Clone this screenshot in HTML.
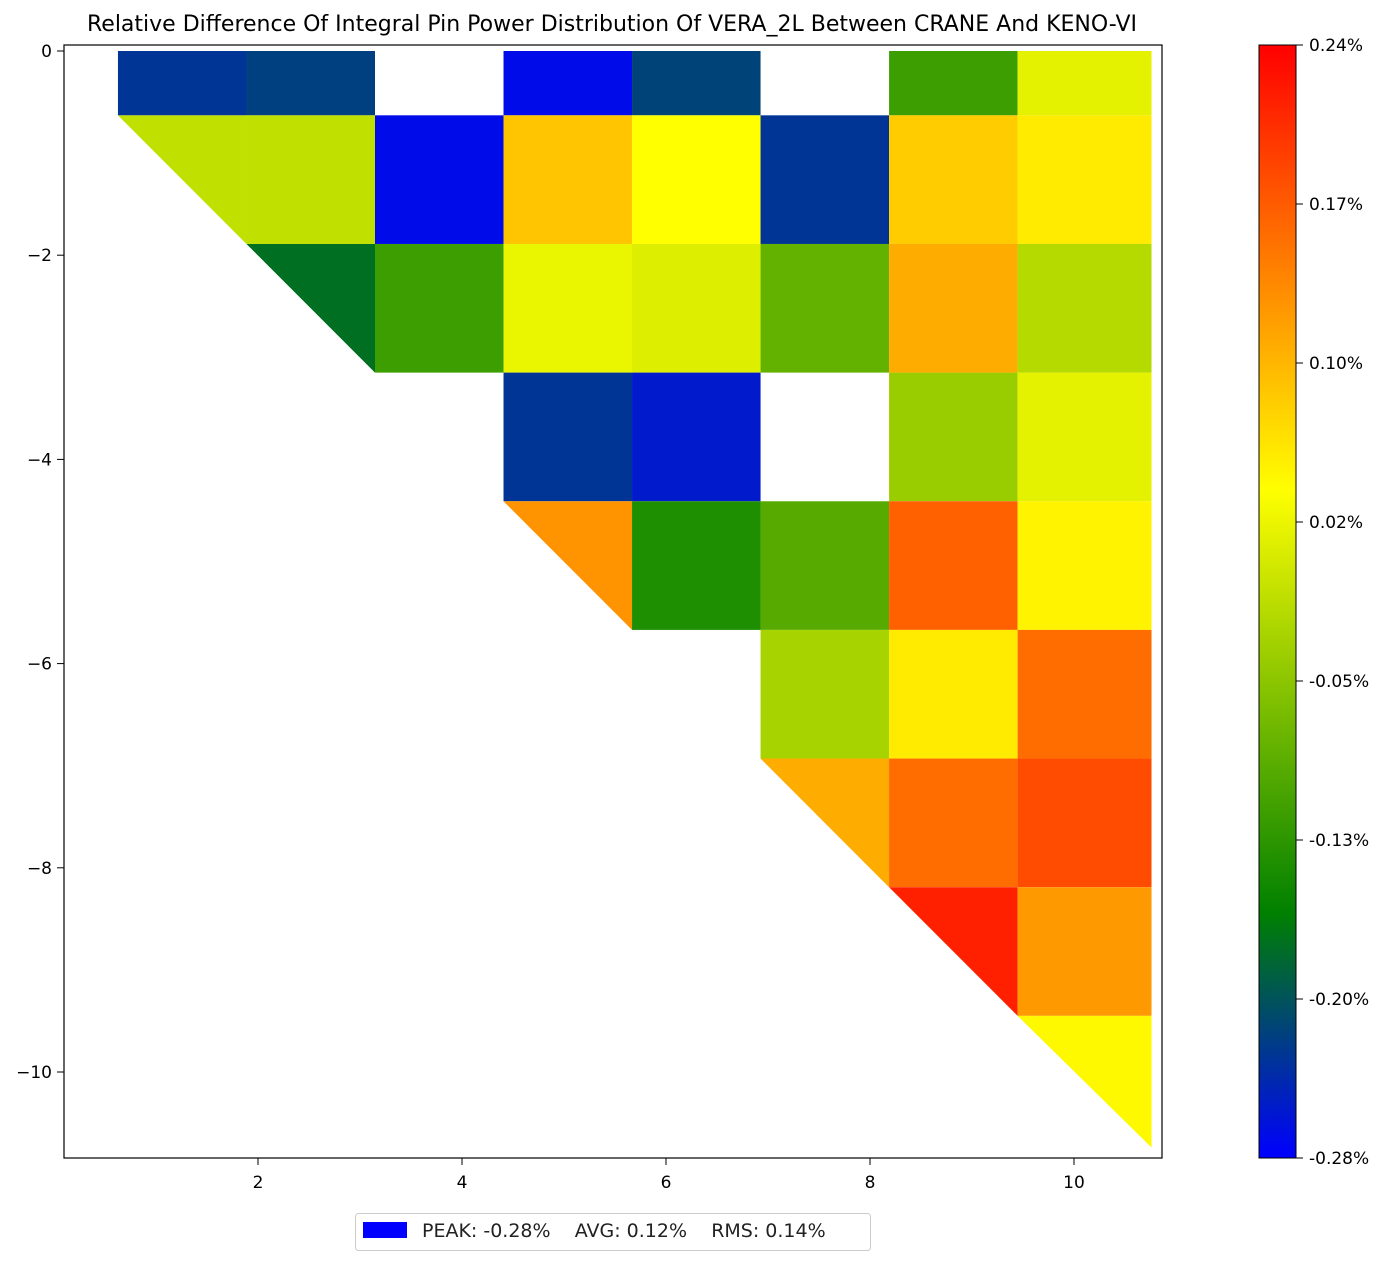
<!DOCTYPE html>
<html><head><meta charset="utf-8"><style>
body{margin:0;background:#fff;}
svg{display:block;font-family:"DejaVu Sans","Liberation Sans",sans-serif;}
</style></head><body>
<svg id="chart" width="1389" height="1284" viewBox="0 0 1389 1284">
<defs>
<linearGradient id="cbgrad" x1="0" y1="1" x2="0" y2="0">
<stop offset="0" stop-color="#0000ff"/>
<stop offset="0.22" stop-color="#008000"/>
<stop offset="0.6" stop-color="#ffff00"/>
<stop offset="1" stop-color="#ff0000"/>
</linearGradient>
</defs>
<text x="612" y="31" font-size="22" text-anchor="middle" fill="#000">Relative Difference Of Integral Pin Power Distribution Of VERA_2L Between CRANE And KENO-VI</text>
<g id="cells"></g>
<rect x="64" y="45" width="1098" height="1113" fill="none" stroke="#000" stroke-width="1.2"/>
<g id="xticks"></g>
<g id="yticks"></g>
<rect x="1259" y="45" width="37" height="1113" fill="url(#cbgrad)" stroke="#000" stroke-width="1"/>
<g id="cbticks"></g>
<g>
<rect x="355.5" y="1213.5" width="515" height="37" rx="3" fill="#fff" stroke="#ccc"/>
<rect x="363" y="1222" width="44" height="16" fill="#0000ff"/>
<text x="422" y="1237" font-size="19" fill="#222" xml:space="preserve">PEAK: -0.28%    AVG: 0.12%    RMS: 0.14%</text>
</g>
</svg>
<script>
// values in % per row (row 0 = top half-row); null = no pin
const row0 = [-0.233,-0.223,null,-0.27,-0.22,null,-0.119,0.011];
const row1 = [-0.017,-0.017,-0.27,0.079,0.032,-0.233,0.074,0.048];
const row2 = [null,-0.181,-0.119,0.016,0.006,-0.088,0.10,-0.025];
const row3 = [null,null,null,-0.233,-0.257,null,-0.046,0.011];
const row4 = [null,null,null,0.12,-0.142,-0.098,0.162,0.042];
const row5 = [null,null,null,null,null,-0.036,0.048,0.152];
const row6 = [null,null,null,null,null,0.10,0.152,0.178];
const row7 = [null,null,null,null,null,null,0.214,0.115];
const row8 = [null,null,null,null,null,null,null,0.037];
const rows = [row0,row1,row2,row3,row4,row5,row6,row7,row8];
// diagonal triangular cells (row index -> column index)
const triRows = [1,2,4,6,7,8];
const triCols = [0,1,3,5,6,7];
const xTickVals = [2,4,6,8,10];
const yTickVals = [0,-2,-4,-6,-8,-10];
const cbTickLabels = ['0.24%','0.17%','0.10%','0.02%','-0.05%','-0.13%','-0.20%','-0.28%'];
const vmin = -0.28, vmax = 0.24;

const NS='http://www.w3.org/2000/svg';
const X = x => 54 + x*102;
const Y = y => 51 - y*102.1;
const pitch = 1.26;
const colL = i => 0.627 + pitch*i;
const colR = i => i===7 ? 10.76 : 0.627 + pitch*(i+1);
const rowT = r => r===0 ? 0 : -0.63 - pitch*(r-1);
const rowB = r => r===8 ? -10.74 : -0.63 - pitch*r;

const stops=[[0,[0,0,255]],[0.22,[0,128,0]],[0.6,[255,255,0]],[1,[255,0,0]]];
function color(v){
  let t=(v-vmin)/(vmax-vmin); t=Math.max(0,Math.min(1,t));
  for(let i=1;i<stops.length;i++){
    if(t<=stops[i][0]){
      const a=stops[i-1],b=stops[i],f=(t-a[0])/(b[0]-a[0]);
      const c=a[1].map((q,k)=>Math.round(q+(b[1][k]-q)*f));
      return `rgb(${c[0]},${c[1]},${c[2]})`;
    }
  }
  return 'rgb(255,0,0)';
}
const g=document.getElementById('cells');
rows.forEach((row,r)=>{
  row.forEach((v,c)=>{
    if(v===null) return;
    const x0=X(colL(c)),x1=X(colR(c)),y0=Y(rowT(r)),y1=Y(rowB(r));
    const tri = triRows.some((tr,k)=>tr===r && triCols[k]===c);
    let el;
    if(tri){
      el=document.createElementNS(NS,'polygon');
      el.setAttribute('points',`${x0},${y0} ${x1},${y0} ${x1},${y1}`);
    } else {
      el=document.createElementNS(NS,'rect');
      el.setAttribute('x',x0);el.setAttribute('y',y0);
      el.setAttribute('width',x1-x0);el.setAttribute('height',y1-y0);
    }
    el.setAttribute('fill',color(v));
    
    
    g.appendChild(el);
  });
});
const xg=document.getElementById('xticks');
xTickVals.forEach(v=>{
  const l=document.createElementNS(NS,'line');
  l.setAttribute('x1',X(v));l.setAttribute('x2',X(v));l.setAttribute('y1',1158);l.setAttribute('y2',1165);l.setAttribute('stroke','#000');
  
  
  xg.appendChild(l);
  const t=document.createElementNS(NS,'text');
  t.setAttribute('x',X(v));t.setAttribute('y',1188);t.setAttribute('font-size','17');t.setAttribute('text-anchor','middle');
  t.textContent=v;
  
  
  xg.appendChild(t);
});
const yg=document.getElementById('yticks');
yTickVals.forEach(v=>{
  const l=document.createElementNS(NS,'line');
  l.setAttribute('x1',57);l.setAttribute('x2',64);l.setAttribute('y1',Y(v));l.setAttribute('y2',Y(v));l.setAttribute('stroke','#000');
  
  
  yg.appendChild(l);
  const t=document.createElementNS(NS,'text');
  t.setAttribute('x',52);t.setAttribute('y',Y(v)+6);t.setAttribute('font-size','17');t.setAttribute('text-anchor','end');
  t.textContent=v<0?'\u2212'+Math.abs(v):v;
  
  
  yg.appendChild(t);
});
const cg=document.getElementById('cbticks');
cbTickLabels.forEach((s,i)=>{
  const y=45+i*(1113/7);
  const l=document.createElementNS(NS,'line');
  l.setAttribute('x1',1296);l.setAttribute('x2',1303);l.setAttribute('y1',y);l.setAttribute('y2',y);l.setAttribute('stroke','#000');
  
  
  cg.appendChild(l);
  const t=document.createElementNS(NS,'text');
  t.setAttribute('x',1309);t.setAttribute('y',y+6);t.setAttribute('font-size','17');
  t.textContent=s;
  
  
  cg.appendChild(t);
});
</script>
</body></html>
